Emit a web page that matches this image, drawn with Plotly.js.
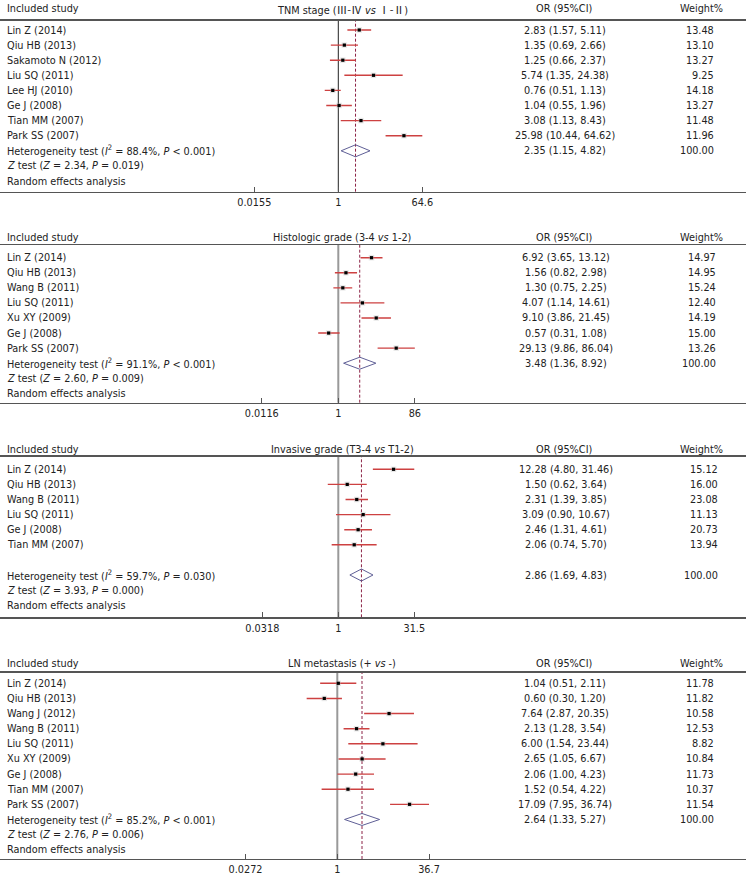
<!DOCTYPE html>
<html><head><meta charset="utf-8">
<script src="https://cdn.plot.ly/plotly-3.0.1.min.js"></script>
<style>html,body{margin:0;padding:0;background:#fff}#chart{width:752px;height:875px}</style>
</head><body><div id="chart"></div>
<script>
// ---------- DATA ----------
// Panel 1
const p1Title = "TNM stage (<span style=\"font-family:'Noto Sans CJK SC'\">Ⅲ-Ⅳ</span> <i>vs</i> <span style=\"font-family:'Noto Sans CJK SC'\">Ⅰ-Ⅱ</span>)";
const p1Studies = ["Lin Z (2014)","Qiu HB (2013)","Sakamoto N (2012)","Liu SQ (2011)","Lee HJ (2010)","Ge J (2008)","Tian MM (2007)","Park SS (2007)"];
const p1OR = [2.83,1.35,1.25,5.74,0.76,1.04,3.08,25.98];
const p1Lo = [1.57,0.69,0.66,1.35,0.51,0.55,1.13,10.44];
const p1Hi = [5.11,2.66,2.37,24.38,1.13,1.96,8.43,64.62];
const p1Weight = ["13.48","13.10","13.27","9.25","14.18","13.27","11.48","11.96"];
const p1Pooled = [2.35,1.15,4.82];
const p1I2 = "88.4%", p1HetP = "&lt; 0.001", p1Z = "2.34", p1ZP = "= 0.019";
const p1TickVals = [0.0155,1,64.6];
const p1TickText = ["0.0155","1","64.6"];

// Panel 2
const p2Title = "Histologic grade (3-4 <i>vs</i> 1-2)";
const p2Studies = ["Lin Z (2014)","Qiu HB (2013)","Wang B (2011)","Liu SQ (2011)","Xu XY (2009)","Ge J (2008)","Park SS (2007)"];
const p2OR = [6.92,1.56,1.30,4.07,9.10,0.57,29.13];
const p2Lo = [3.65,0.82,0.75,1.14,3.86,0.31,9.86];
const p2Hi = [13.12,2.98,2.25,14.61,21.45,1.08,86.04];
const p2Weight = ["14.97","14.95","15.24","12.40","14.19","15.00","13.26"];
const p2Pooled = [3.48,1.36,8.92];
const p2I2 = "91.1%", p2HetP = "&lt; 0.001", p2Z = "2.60", p2ZP = "= 0.009";
const p2TickVals = [0.0116,1,86];
const p2TickText = ["0.0116","1","86"];

// Panel 3
const p3Title = "Invasive grade (T3-4 <i>vs</i> T1-2)";
const p3Studies = ["Lin Z (2014)","Qiu HB (2013)","Wang B (2011)","Liu SQ (2011)","Ge J (2008)","Tian MM (2007)"];
const p3OR = [12.28,1.50,2.31,3.09,2.46,2.06];
const p3Lo = [4.80,0.62,1.39,0.90,1.31,0.74];
const p3Hi = [31.46,3.64,3.85,10.67,4.61,5.70];
const p3Weight = ["15.12","16.00","23.08","11.13","20.73","13.94"];
const p3Pooled = [2.86,1.69,4.83];
const p3I2 = "59.7%", p3HetP = "= 0.030", p3Z = "3.93", p3ZP = "= 0.000";
const p3TickVals = [0.0318,1,31.5];
const p3TickText = ["0.0318","1","31.5"];

// Panel 4
const p4Title = "LN metastasis (+ <i>vs</i> -)";
const p4Studies = ["Lin Z (2014)","Qiu HB (2013)","Wang J (2012)","Wang B (2011)","Liu SQ (2011)","Xu XY (2009)","Ge J (2008)","Tian MM (2007)","Park SS (2007)"];
const p4OR = [1.04,0.60,7.64,2.13,6.00,2.65,2.06,1.52,17.09];
const p4Lo = [0.51,0.30,2.87,1.28,1.54,1.05,1.00,0.54,7.95];
const p4Hi = [2.11,1.20,20.35,3.54,23.44,6.67,4.23,4.22,36.74];
const p4Weight = ["11.78","11.82","10.58","12.53","8.82","10.84","11.73","10.37","11.54"];
const p4Pooled = [2.64,1.33,5.27];
const p4I2 = "85.2%", p4HetP = "&lt; 0.001", p4Z = "2.76", p4ZP = "= 0.006";
const p4TickVals = [0.0272,1,36.7];
const p4TickText = ["0.0272","1","36.7"];

// ---------- GEOMETRY (pixels) ----------
const W = 752, H = 875;
const geo = [
  {top:20.5, bottom:191.7, y0:30,    d:15.1,  center:338.3, half:84,   headY:9,     gap:0, refCol:'#222', refW:1, wRight:716, orX:565},
  {top:245,  bottom:402.7, y0:257.7, d:15.07, center:338.3, half:76.5, headY:237.3, gap:0, refCol:'#999', refW:2, wRight:718, orX:566},
  {top:456.7,bottom:617.3, y0:469.3, d:15.1,  center:338.3, half:76,   headY:449,   gap:1, refCol:'#999', refW:2, wRight:720, orX:566},
  {top:672.7,bottom:859,   y0:683.3, d:15.13, center:337.3, half:91.7, headY:663.3, gap:0, refCol:'#999', refW:2, wRight:716, orX:565}
];
const panels = [
  {title:p1Title, st:p1Studies, or:p1OR, lo:p1Lo, hi:p1Hi, w:p1Weight, pooled:p1Pooled, i2:p1I2, hp:p1HetP, z:p1Z, zp:p1ZP, tv:p1TickVals, tt:p1TickText},
  {title:p2Title, st:p2Studies, or:p2OR, lo:p2Lo, hi:p2Hi, w:p2Weight, pooled:p2Pooled, i2:p2I2, hp:p2HetP, z:p2Z, zp:p2ZP, tv:p2TickVals, tt:p2TickText},
  {title:p3Title, st:p3Studies, or:p3OR, lo:p3Lo, hi:p3Hi, w:p3Weight, pooled:p3Pooled, i2:p3I2, hp:p3HetP, z:p3Z, zp:p3ZP, tv:p3TickVals, tt:p3TickText},
  {title:p4Title, st:p4Studies, or:p4OR, lo:p4Lo, hi:p4Hi, w:p4Weight, pooled:p4Pooled, i2:p4I2, hp:p4HetP, z:p4Z, zp:p4ZP, tv:p4TickVals, tt:p4TickText}
];

const FONT = "'DejaVu Sans Condensed', 'DejaVu Sans', sans-serif";
const FS = 10.8;
const TXT = '#222';
const CI_COL = 'rgb(205,65,65)';
const DIA_COL = 'rgb(95,95,150)';
const DASH_COL = 'rgb(140,35,70)';
const LINE_COL = '#555';
const fmt = v => v.toFixed(2);

const traces = [], annotations = [], shapes = [];
const layout = {
  width: W, height: H, margin:{l:0,r:0,t:0,b:0},
  paper_bgcolor:'#fff', plot_bgcolor:'rgba(0,0,0,0)', showlegend:false,
  font:{family:FONT, size:FS, color:TXT}
};

panels.forEach((p, k) => {
  const g = geo[k];
  const n = k + 1;
  const xa = 'x' + (n === 1 ? '' : n), ya = 'y' + (n === 1 ? '' : n);
  const xKey = 'xaxis' + (n === 1 ? '' : n), yKey = 'yaxis' + (n === 1 ? '' : n);
  const T = p.tv[2];
  const s = g.half / Math.log10(T);
  const xRight = 746;
  layout[xKey] = {
    type:'log', domain:[0, xRight / W], anchor:ya,
    range:[(0 - g.center) / s, (xRight - g.center) / s],
    showgrid:false, zeroline:false, showline:true, mirror:true,
    linecolor:LINE_COL, linewidth:1.3,
    ticks:'inside', ticklen:5, tickwidth:1, tickcolor:LINE_COL,
    tickvals:p.tv, ticktext:p.tt, tickfont:{family:FONT, size:FS, color:TXT}
  };
  layout[yKey] = {
    domain:[1 - g.bottom / H, 1 - g.top / H], anchor:xa,
    range:[(g.bottom - g.y0) / g.d, (g.top - g.y0) / g.d],
    showgrid:false, zeroline:false, showline:false, showticklabels:false, ticks:''
  };
  const rows = p.st.map((_, i) => i);
  const hetRow = p.st.length + g.gap;

  // reference line at 1 and pooled dashed line
  shapes.push({type:'line', xref:xa, yref:ya + ' domain', x0:1, x1:1, y0:0, y1:1,
               line:{color:g.refCol, width:g.refW}, layer:'below'});
  shapes.push({type:'line', xref:xa, yref:ya + ' domain', x0:p.pooled[0], x1:p.pooled[0], y0:0, y1:1,
               line:{color:DASH_COL, width:1, dash:'3px,2px'}, layer:'below'});

  // study CIs with faint weight boxes
  traces.push({
    type:'scatter', mode:'markers', xaxis:xa, yaxis:ya, x:p.or, y:rows, cliponaxis:false,
    marker:{symbol:'square', size:5.5, color:'rgba(185,185,185,0.35)'},
    error_x:{type:'data', symmetric:false,
             array:p.or.map((v, i) => p.hi[i] - v),
             arrayminus:p.or.map((v, i) => v - p.lo[i]),
             color:CI_COL, thickness:1.4, width:0},
    hoverinfo:'skip'
  });
  // point estimates
  traces.push({
    type:'scatter', mode:'markers', xaxis:xa, yaxis:ya, x:p.or, y:rows, cliponaxis:false,
    marker:{symbol:'square', size:3.2, color:'#000'}, hoverinfo:'skip'
  });
  // pooled diamond
  const hh = 6 / g.d;
  traces.push({
    type:'scatter', mode:'lines', xaxis:xa, yaxis:ya, cliponaxis:false,
    x:[p.pooled[1], p.pooled[0], p.pooled[2], p.pooled[0], p.pooled[1]],
    y:[hetRow, hetRow - hh, hetRow, hetRow + hh, hetRow],
    line:{color:DIA_COL, width:1}, hoverinfo:'skip'
  });

  // texts
  const A = (x, y, text, xanchor, yref) => annotations.push({
    xref:'paper', yref:yref || ya, x:x / W, y:y, text:text, xanchor:xanchor, yanchor:'middle',
    showarrow:false, font:{family:FONT, size:FS, color:TXT}
  });
  const headY = 1 - g.headY / H;
  A(5, headY, 'Included study', 'left', 'paper');
  A(342, headY, p.title, 'center', 'paper');
  A(564, headY, 'OR (95%CI)', 'center', 'paper');
  A(701, headY, 'Weight%', 'center', 'paper');
  p.st.forEach((name, i) => {
    A(5, i, name, 'left');
    A(g.orX, i, fmt(p.or[i]) + ' (' + fmt(p.lo[i]) + ', ' + fmt(p.hi[i]) + ')', 'center');
    A(g.wRight, i, p.w[i], 'right');
  });
  A(5, hetRow, 'Heterogeneity test (<i>I</i><sup>2</sup> = ' + p.i2 + ', <i>P</i> ' + p.hp + ')', 'left');
  A(g.orX, hetRow, fmt(p.pooled[0]) + ' (' + fmt(p.pooled[1]) + ', ' + fmt(p.pooled[2]) + ')', 'center');
  A(g.wRight, hetRow, '100.00', 'right');
  A(5, hetRow + 1, '<i>Z</i> test (<i>Z</i> = ' + p.z + ', <i>P</i> ' + p.zp + ')', 'left');
  A(5, hetRow + 2, 'Random effects analysis', 'left');
});

layout.annotations = annotations;
layout.shapes = shapes;
Plotly.newPlot('chart', traces, layout, {displayModeBar:false, staticPlot:true});
</script>
</body></html>
